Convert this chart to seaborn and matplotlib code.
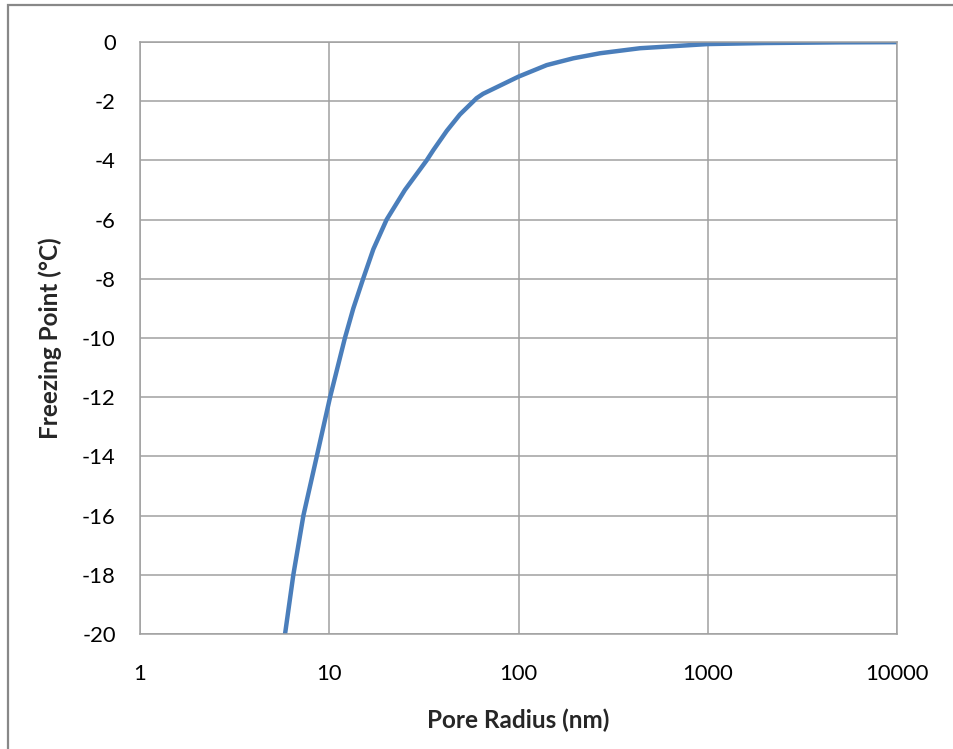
import numpy as np
import pandas as pd
import matplotlib
matplotlib.use("Agg")
import matplotlib.pyplot as plt
import matplotlib.patches as mpatches
import matplotlib.ticker as mticker
import seaborn as sns

# values
pore_radius = [5.84, 6.46, 7.3, 8.59, 10.1, 12.1, 13.4, 15.1, 17.1, 20.1, 25.1, 32.7, 35.5, 41.8,
               49, 60, 65, 100, 141, 195, 270, 439, 1000, 2000, 5000, 10000]
freezing_pt = [-20, -18, -16, -14, -12, -10, -9, -8, -7, -6, -5, -4, -3.65, -3.0,
               -2.45, -1.9, -1.75, -1.17, -0.78, -0.55, -0.38, -0.21, -0.07, -0.035, -0.012, -0.005]
x_ticks = [1, 10, 100, 1000, 10000]
y_ticks = list(range(-20, 1, 2))

df = pd.DataFrame({"radius": pore_radius, "fp": freezing_pt})

sns.set_style("white")
plt.rcParams['font.family'] = ['Lato', 'DejaVu Sans']
plt.rcParams['axes.unicode_minus'] = False

fig = plt.figure(figsize=(9.54, 7.49), dpi=100)
ax = fig.add_axes([140/954, 1-634/749, (897-140)/954, (634-42)/749])

sns.lineplot(data=df, x="radius", y="fp", ax=ax, color="#4a7ebb", linewidth=3.2, sort=False)

ax.set_xscale("log")
ax.set_xlim(1, 10000)
ax.set_ylim(-20, 0)
ax.set_xticks(x_ticks)
ax.xaxis.set_major_formatter(mticker.FuncFormatter(lambda v, p: f"{int(round(v))}"))
ax.xaxis.set_minor_locator(mticker.NullLocator())
ax.set_yticks(y_ticks)

grid_col = "#a0a0a0"
ax.grid(True, color=grid_col, linewidth=1.1)
for s in ax.spines.values():
    s.set_color(grid_col)
    s.set_linewidth(1.1)
ax.tick_params(axis="both", direction="out", length=6.5, width=1.1, color=grid_col,
               labelsize=15.8, labelcolor="black")
ax.tick_params(axis="y", pad=11)
ax.tick_params(axis="x", pad=15)

ax.set_xlabel("Pore Radius (nm)", fontsize=17.5, fontweight="bold", labelpad=18)
ax.set_ylabel("Freezing Point (°C)", fontsize=17.5, fontweight="bold", labelpad=14)

# outer chart frame
frame = mpatches.Rectangle((8/954, -0.02), 1.0, 1 - 5/749 + 0.02, transform=fig.transFigure,
                           fill=False, edgecolor="#888888", linewidth=1.6, clip_on=False)
fig.patches.append(frame)

fig.savefig("out.png", dpi=100)
